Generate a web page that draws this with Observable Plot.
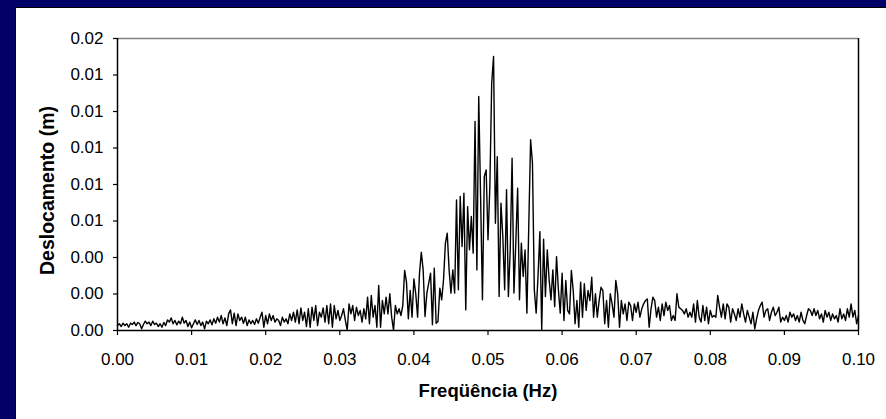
<!DOCTYPE html>
<html><head><meta charset="utf-8">
<script src="https://cdn.jsdelivr.net/npm/d3@7"></script>
<script src="https://cdn.jsdelivr.net/npm/@observablehq/plot@0.6"></script>
<style>
html,body{margin:0;padding:0;background:#000066;width:886px;height:419px;overflow:hidden;}
#panel{position:absolute;left:15px;top:7px;width:871px;height:412px;background:#fff;border-left:1px solid #000;border-top:1px solid #000;}
#panel svg{display:block;}
</style></head><body><div id="panel"></div>
<script>
// frequency grid step (Hz)
const freqStep = 0.00025;
// displacement amplitude (m), one value per frequency step from 0 to 0.1 Hz
const deslocamento = [
0.00027,0.00037,0.00022,0.00040,0.00027,0.00037,0.00018,0.00040,0.00033,0.00046,
0.00027,0.00044,0.00037,0.00009,0.00033,0.00051,0.00037,0.00046,0.00027,0.00051,
0.00033,0.00040,0.00022,0.00037,0.00018,0.00044,0.00027,0.00058,0.00046,0.00069,
0.00037,0.00055,0.00031,0.00051,0.00037,0.00073,0.00040,0.00055,0.00022,0.00046,
0.00015,0.00037,0.00058,0.00033,0.00055,0.00027,0.00046,0.00009,0.00051,0.00037,
0.00058,0.00031,0.00064,0.00040,0.00073,0.00046,0.00082,0.00037,0.00069,0.00027,
0.00091,0.00113,0.00037,0.00095,0.00027,0.00091,0.00055,0.00073,0.00040,0.00073,
0.00027,0.00058,0.00037,0.00055,0.00033,0.00064,0.00040,0.00073,0.00100,0.00018,
0.00082,0.00037,0.00091,0.00055,0.00082,0.00046,0.00064,0.00055,0.00027,0.00073,
0.00046,0.00064,0.00037,0.00091,0.00055,0.00100,0.00046,0.00113,0.00037,0.00124,
0.00055,0.00100,0.00022,0.00119,0.00018,0.00128,0.00055,0.00137,0.00027,0.00100,
0.00073,0.00124,0.00046,0.00137,0.00037,0.00146,0.00018,0.00137,0.00064,0.00110,
0.00055,0.00082,0.00119,0.00055,0.00002,0.00146,0.00091,0.00137,0.00055,0.00128,
0.00082,0.00110,0.00046,0.00119,0.00064,0.00183,0.00037,0.00192,0.00073,0.00137,
0.00018,0.00247,0.00018,0.00164,0.00091,0.00183,0.00091,0.00201,0.00073,0.00002,
0.00137,0.00091,0.00119,0.00082,0.00137,0.00329,0.00265,0.00064,0.00219,0.00073,
0.00283,0.00201,0.00073,0.00310,0.00429,0.00332,0.00077,0.00205,0.00259,0.00314,
0.00031,0.00342,0.00040,0.00049,0.00232,0.00168,0.00278,0.00478,0.00533,0.00332,
0.00205,0.00332,0.00205,0.00716,0.00223,0.00734,0.00460,0.00752,0.00113,0.00679,
0.00442,0.00625,0.00424,0.01145,0.00332,0.01282,0.00734,0.00168,0.00844,0.00880,
0.00497,0.00789,0.01355,0.01501,0.00588,0.00953,0.00186,0.00698,0.00515,0.00223,
0.00771,0.00186,0.00442,0.00944,0.00205,0.00478,0.00780,0.00168,0.00478,0.00296,
0.00442,0.00095,0.00570,0.01045,0.00917,0.00223,0.00095,0.00296,0.00542,0.00004,
0.00500,0.00186,0.00442,0.00278,0.00168,0.00332,0.00131,0.00405,0.00223,0.00095,
0.00314,0.00055,0.00274,0.00110,0.00091,0.00329,0.00219,0.00037,0.00164,0.00018,
0.00265,0.00073,0.00256,0.00110,0.00219,0.00164,0.00292,0.00073,0.00201,0.00073,
0.00164,0.00237,0.00219,0.00037,0.00164,0.00018,0.00201,0.00146,0.00073,0.00274,
0.00201,0.00018,0.00164,0.00091,0.00146,0.00055,0.00155,0.00137,0.00055,0.00146,
0.00100,0.00155,0.00073,0.00119,0.00146,0.00164,0.00173,0.00018,0.00119,0.00183,
0.00164,0.00073,0.00128,0.00055,0.00146,0.00082,0.00155,0.00110,0.00137,0.00055,
0.00082,0.00055,0.00201,0.00128,0.00119,0.00110,0.00091,0.00119,0.00073,0.00100,
0.00073,0.00146,0.00046,0.00164,0.00073,0.00046,0.00137,0.00055,0.00128,0.00037,
0.00110,0.00073,0.00082,0.00073,0.00192,0.00128,0.00073,0.00146,0.00064,0.00146,
0.00128,0.00046,0.00119,0.00091,0.00055,0.00119,0.00073,0.00146,0.00091,0.00046,
0.00110,0.00073,0.00037,0.00100,0.00009,0.00064,0.00110,0.00137,0.00155,0.00073,
0.00110,0.00119,0.00055,0.00100,0.00128,0.00082,0.00100,0.00128,0.00046,0.00073,
0.00055,0.00082,0.00046,0.00100,0.00073,0.00091,0.00055,0.00082,0.00046,0.00100,
0.00055,0.00037,0.00082,0.00119,0.00110,0.00082,0.00119,0.00082,0.00110,0.00064,
0.00091,0.00046,0.00110,0.00073,0.00100,0.00055,0.00091,0.00064,0.00082,0.00046,
0.00119,0.00064,0.00091,0.00055,0.00119,0.00073,0.00146,0.00073,0.00110,0.00037,
0.00082
];
const yTicks = [0, 0.002, 0.004, 0.006, 0.008, 0.010, 0.012, 0.014, 0.016];
const xTicks = [0, 0.01, 0.02, 0.03, 0.04, 0.05, 0.06, 0.07, 0.08, 0.09, 0.10];
const xTitle = "Freqüência (Hz)";
const yTitle = "Deslocamento (m)";

const data = deslocamento.map((v, i) => ({f: i * freqStep, v}));
const font = '"Liberation Sans", Arial, sans-serif';

const plot = Plot.plot({
  width: 870,
  height: 411,
  marginLeft: 101,
  marginTop: 30,
  marginRight: 28,
  marginBottom: 89,
  style: {background: "#fff", fontFamily: font, fontSize: "17px", color: "#000", overflow: "visible"},
  x: {domain: [0, 0.1]},
  y: {domain: [0, 0.016]},
  marks: [
    Plot.ruleY([0.016], {stroke: "#808080", strokeWidth: 1.5}),
    Plot.ruleX([0.1], {stroke: "#000", strokeWidth: 1.5}),
    Plot.lineY(data, {x: "f", y: "v", stroke: "#000", strokeWidth: 1.4}),
    Plot.ruleX([0], {stroke: "#000", strokeWidth: 1.5}),
    Plot.ruleY([0], {stroke: "#000", strokeWidth: 1.5}),
    Plot.axisY(yTicks, {tickSize: 4, tickPadding: 10, tickFormat: d3.format(".2f"), label: null, strokeWidth: 1.2, fontSize: 17}),
    Plot.axisX(xTicks, {tickSize: 5, tickPadding: 17, tickFormat: d3.format(".2f"), label: null, strokeWidth: 1.2, fontSize: 17}),
    Plot.text([xTitle], {frameAnchor: "bottom", dy: 61, text: d => d, fontWeight: "bold", fontSize: 18.5, lineAnchor: "middle", textAnchor: "middle"}),
    Plot.text([yTitle], {frameAnchor: "left", dx: -70, dy: 6, text: d => d, rotate: -90, fontWeight: "bold", fontSize: 19.5, lineAnchor: "middle", textAnchor: "middle"})
  ]
});
document.getElementById("panel").appendChild(plot);
</script>
</body></html>
